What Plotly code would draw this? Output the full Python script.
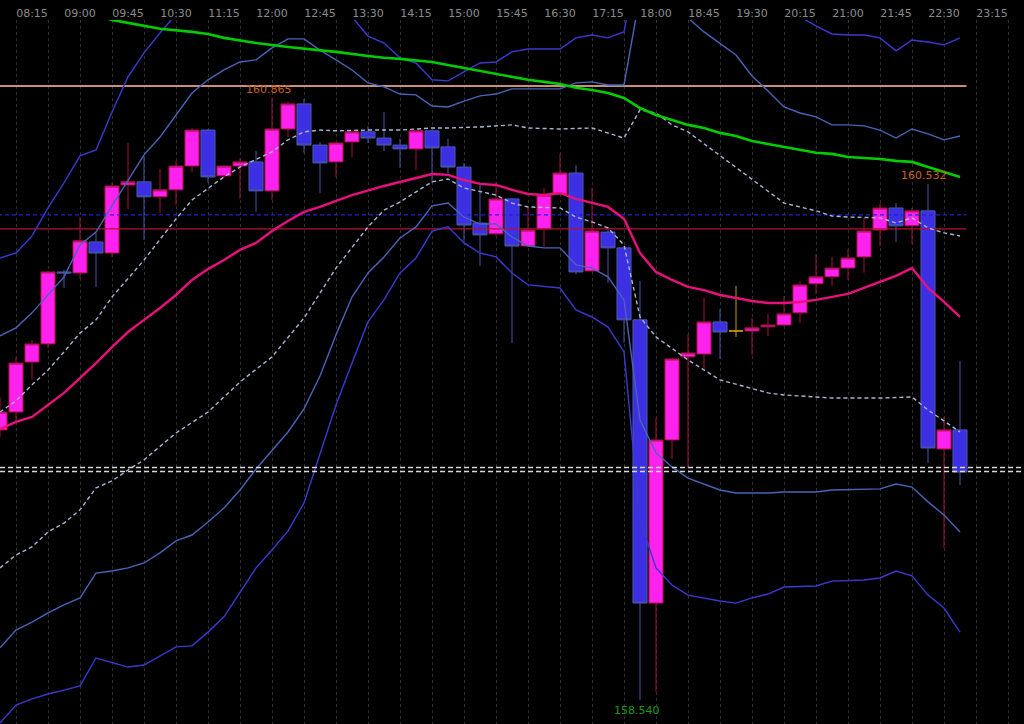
import pandas as pd
import plotly.graph_objects as go

# ---- bar times (15-minute bars) ----
times = pd.date_range("2024-05-02 07:45", periods=61, freq="15min")

# ---- OHLC ----
opens = [159.583, 159.652, 159.845, 159.915, 160.193, 160.189, 160.309, 160.266, 160.529, 160.541,
         160.483, 160.510, 160.602, 160.741, 160.564, 160.602, 160.618, 160.506, 160.745, 160.842,
         160.683, 160.618, 160.695, 160.734, 160.710, 160.683, 160.668, 160.738, 160.676, 160.598,
         160.382, 160.340, 160.475, 160.293, 160.359, 160.494, 160.575, 160.197, 160.347, 160.286,
         160.008, 158.914, 159.544, 159.865, 159.876, 160.000, 159.965, 159.965, 159.981, 159.988,
         160.035, 160.147, 160.174, 160.208, 160.251, 160.355, 160.440, 160.371, 160.429, 159.509,
         159.583]
highs = [159.710, 159.865, 159.930, 160.197, 160.201, 160.405, 160.344, 160.537, 160.691, 160.641,
         160.591, 160.622, 160.749, 160.745, 160.606, 160.633, 160.660, 160.865, 160.850, 160.861,
         160.695, 160.695, 160.738, 160.757, 160.811, 160.707, 160.741, 160.741, 160.707, 160.614,
         160.537, 160.541, 160.479, 160.440, 160.517, 160.649, 160.606, 160.517, 160.367, 160.286,
         160.158, 159.629, 159.861, 159.953, 160.093, 160.050, 160.139, 160.015, 160.031, 160.100,
         160.158, 160.262, 160.251, 160.282, 160.402, 160.459, 160.459, 160.440, 160.532, 159.633,
         159.849]
lows = [159.556, 159.610, 159.776, 159.899, 160.131, 160.166, 160.135, 160.251, 160.436, 160.317,
        160.421, 160.452, 160.579, 160.537, 160.556, 160.475, 160.425, 160.471, 160.714, 160.653,
        160.498, 160.560, 160.637, 160.691, 160.660, 160.595, 160.587, 160.537, 160.575, 160.309,
        160.216, 160.332, 159.919, 160.290, 160.290, 160.490, 160.185, 160.193, 160.150, 159.919,
        158.540, 158.571, 159.471, 159.436, 159.814, 159.857, 159.942, 159.872, 159.946, 159.984,
        159.996, 160.108, 160.139, 160.162, 160.189, 160.293, 160.309, 160.301, 159.455, 159.127,
        159.370]
closes = [159.652, 159.841, 159.915, 160.193, 160.189, 160.313, 160.266, 160.525, 160.541, 160.483,
          160.510, 160.602, 160.741, 160.560, 160.602, 160.618, 160.506, 160.745, 160.842, 160.683,
          160.614, 160.691, 160.734, 160.710, 160.683, 160.668, 160.738, 160.672, 160.598, 160.374,
          160.336, 160.475, 160.293, 160.355, 160.490, 160.575, 160.193, 160.351, 160.286, 160.008,
          158.914, 159.544, 159.857, 159.880, 160.000, 159.961, 159.965, 159.977, 159.988, 160.031,
          160.143, 160.174, 160.208, 160.247, 160.351, 160.440, 160.371, 160.429, 159.513, 159.583,
          159.420]

N = None
# ---- indicator lines (None = not read; drawn straight through) ----
band_outer_up = [160.247, 160.266, 160.332, 160.440, 160.537, 160.641, 160.664, 160.811, 160.946, 161.039,
                 161.116, 161.186, 161.26, 161.30, 161.32, 161.33, 161.34, 161.34, 161.33, 161.31,
                 161.28, 161.24, 161.178, 161.104, 161.077, 161.020, 161.000, 160.935, 160.931, 160.966,
                 161.000, 161.004, 161.043, 161.054, 161.054, 161.054, 161.097, 161.108, 161.097, 161.120,
                 161.45, 161.6, 161.6, 161.6, 161.6, 161.55, 161.5, 161.45, 161.4, 161.33,
                 161.178, 161.143, 161.112, 161.108, 161.108, 161.097, 161.047, 161.089, 161.081, 161.070,
                 161.097]
band_inner_up = [159.946, 159.977, 160.035, 160.104, 160.174, 160.297, 160.347, 160.448, 160.548, 160.645,
                 160.714, 160.799, 160.884, 160.935, 160.973, 161.004, 161.012, 161.058, 161.093, 161.093,
                 161.050, 161.012, 160.973, 160.923, 160.908, 160.880, 160.877, 160.834, 160.830, 160.853,
                 160.873, 160.880, 160.900, 160.900, 160.900, 160.900, 160.923, 160.927, 160.915, 160.915,
                 161.263, 161.40, 161.40, 161.174, 161.120, 161.074, 161.031, 160.950, 160.892, 160.830,
                 160.807, 160.792, 160.761, 160.761, 160.757, 160.741, 160.710, 160.745, 160.726, 160.703,
                 160.718]
dash_up = [159.652, 159.695, 159.757, 159.814, 159.884, 159.957, 160.008, 160.096, N, 160.239,
           160.317, 160.398, 160.471, 160.517, 160.560, 160.598, 160.626, 160.657, 160.703, 160.734,
           160.741, 160.738, N, 160.741, N, 160.741, N, 160.749, 160.749, N,
           160.753, 160.757, 160.761, 160.749, N, 160.745, N, 160.749, 160.730, 160.710,
           160.819, 160.807, 160.761, 160.734, N, N, N, N, N, 160.459,
           160.444, 160.429, 160.409, 160.405, N, 160.402, 160.382, 160.402, 160.363, 160.344,
           160.332]
dash_dn = [159.050, 159.100, 159.131, 159.189, 159.223, 159.274, 159.359, 159.386, 159.428, 159.467,
           N, 159.571, N, 159.652, N, 159.768, N, 159.865, N, 160.015,
           160.112, 160.208, N, 160.367, 160.432, 160.463, N, 160.541, 160.552, 160.517,
           N, 160.490, 160.459, 160.444, N, 160.440, 160.405, 160.386, 160.363, 160.297,
           160.019, 159.942, N, 159.853, N, 159.776, N, N, 159.726, 159.718,
           N, N, 159.706, N, N, 159.706, N, 159.710, 159.660, N,
           159.575]
ma_fast = [159.586, 159.614, 159.633, 159.679, 159.726, 159.783, 159.841, 159.903, 159.961, 160.008,
           160.054, 160.104, 160.162, 160.204, 160.239, 160.278, 160.305, 160.351, 160.390, 160.425,
           160.444, 160.467, 160.490, N, 160.525, 160.541, 160.556, 160.571, 160.568, 160.548,
           160.533, 160.529, 160.510, 160.494, 160.490, 160.498, 160.475, 160.459, 160.444, 160.398,
           160.266, 160.193, 160.162, 160.135, 160.123, 160.104, 160.093, 160.081, 160.073, 160.073,
           160.077, 160.085, N, 160.108, 160.131, 160.154, 160.178, 160.208, 160.131, 160.077,
           160.019]
ma_slow = [N, N, N, N, N, N, 161.186, 161.166, 161.155, N,
           161.132, N, 161.120, 161.112, 161.097, N, 161.077, N, 161.062, N,
           161.050, 161.043, N, 161.027, 161.020, 161.016, N, 161.004, 160.992, 160.981,
           160.969, 160.958, 160.946, 160.935, 160.927, 160.919, 160.904, 160.896, 160.884, 160.865,
           160.826, 160.799, 160.780, 160.761, 160.749, 160.730, 160.718, 160.699, 160.687, 160.676,
           160.664, 160.653, 160.649, 160.637, 160.633, 160.629, 160.622, 160.618, 160.598, 160.579,
           160.560]
band_inner_dn = [158.741, 158.810, 158.841, 158.876, 158.907, 158.934, 159.030, 159.038, 159.050, 159.069,
                 159.108, 159.154, 159.177, 159.227, 159.281, 159.351, 159.432, N, 159.575, 159.664,
                 159.791, 159.950, 160.096, 160.189, 160.251, 160.324, 160.367, 160.448, 160.459, 160.405,
                 160.378, 160.378, 160.328, 160.293, 160.286, 160.286, 160.220, 160.208, 160.174, 160.085,
                 159.621, 159.494, 159.440, 159.397, N, 159.351, 159.339, N, 159.339, 159.343,
                 N, 159.343, 159.351, N, N, 159.355, 159.374, 159.362, 159.305, 159.254,
                 159.189]
band_outer_dn = [158.451, 158.520, 158.544, 158.563, 158.578, 158.594, 158.702, 158.683, 158.667, 158.675,
                 158.710, 158.745, 158.749, 158.802, 158.861, 158.953, 159.050, 159.119, 159.193, 159.301,
                 159.486, 159.679, 159.841, 160.000, 160.085, 160.189, 160.247, 160.351, 160.367, 160.305,
                 160.266, 160.251, 160.189, 160.143, N, 160.131, 160.046, 160.019, 159.980, 159.884,
                 159.235, 159.050, 158.984, 158.945, 158.934, 158.922, 158.914, 158.934, 158.949, 158.976,
                 N, 158.980, 158.999, N, 159.003, 159.011, 159.038, 159.019, 158.945, 158.895,
                 158.802]

# ---- horizontal levels ----
level_orange = 160.911
level_blue = 160.413
level_red = 160.359
bid_price = 159.422
ask_price = 159.438

FONT = "DejaVu Sans"
step = pd.Timedelta(minutes=15)
x_start = times[0]
x_end = times[0] + 64 * step

fig = go.Figure()

# candles (regular + doji)
reg = [i for i in range(len(times)) if abs(opens[i] - closes[i]) > 1e-9]
doji = [i for i in range(len(times)) if abs(opens[i] - closes[i]) <= 1e-9]

def pick(arr, idx):
    return [arr[i] for i in idx]

fig.add_trace(go.Candlestick(
    x=pick(list(times), reg), open=pick(opens, reg), high=pick(highs, reg),
    low=pick(lows, reg), close=pick(closes, reg),
    increasing=dict(line=dict(color="#a8103e", width=1), fillcolor="#ff22ee"),
    decreasing=dict(line=dict(color="#4a58a8", width=1), fillcolor="#3d2fe4"),
    whiskerwidth=0, hoverinfo="skip", showlegend=False))
fig.add_trace(go.Candlestick(
    x=pick(list(times), doji), open=pick(opens, doji), high=pick(highs, doji),
    low=pick(lows, doji), close=pick(closes, doji),
    increasing=dict(line=dict(color="#c89a10", width=1), fillcolor="#c89a10"),
    decreasing=dict(line=dict(color="#c89a10", width=1), fillcolor="#c89a10"),
    whiskerwidth=0, hoverinfo="skip", showlegend=False))

# horizontal level lines (end just right of the last bar)
lvl_x = [times[0] - step, times[-1] + pd.Timedelta(minutes=6)]
for lvl, col, dash, w in [(level_orange, "#c8907a", "solid", 2),
                          (level_blue, "#2020d0", "4px,3px", 1.3),
                          (level_red, "#b41234", "solid", 1.3)]:
    fig.add_trace(go.Scatter(x=lvl_x, y=[lvl, lvl], mode="lines",
                             line=dict(color=col, width=w, dash=dash),
                             hoverinfo="skip", showlegend=False))

def add_line(vals, color, width, dash="solid"):
    fig.add_trace(go.Scatter(x=list(times), y=vals, mode="lines", connectgaps=True,
                             line=dict(color=color, width=width, dash=dash),
                             hoverinfo="skip", showlegend=False))

add_line(band_outer_up, "#3a3ad0", 1.4)
add_line(band_outer_dn, "#3a3ad0", 1.4)
add_line(band_inner_up, "#4a64b8", 1.4)
add_line(band_inner_dn, "#4a64b8", 1.4)
add_line(dash_up, "#a8b6d4", 1.4, "4px,3px")
add_line(dash_dn, "#a8b6d4", 1.4, "4px,3px")
add_line(ma_slow, "#00cc00", 2.6)
add_line(ma_fast, "#e8107c", 2.4)

# bid / ask lines across the whole view (on the grid axis x2)
full_x = [times[0] - step, x_end + 4 * step]
for lvl in (bid_price, ask_price):
    fig.add_trace(go.Scatter(x=full_x, y=[lvl, lvl], mode="lines", xaxis="x2",
                             line=dict(color="#d8d8d8", width=1.4, dash="5px,3px"),
                             hoverinfo="skip", showlegend=False))

# high / low labels
hi_i = max(range(len(highs)), key=lambda i: highs[i])
lo_i = min(range(len(lows)), key=lambda i: lows[i])
hi2_i = max(range(lo_i, len(highs)), key=lambda i: highs[i])
annos = [
    dict(x=times[hi_i], y=highs[hi_i], text=f"{highs[hi_i]:.3f}", yanchor="bottom",
         xshift=-3, yshift=0, font=dict(family=FONT, size=11, color="#c8620e")),
    dict(x=times[hi2_i], y=highs[hi2_i], text=f"{highs[hi2_i]:.3f}", yanchor="bottom",
         xshift=-4, yshift=0, font=dict(family=FONT, size=11, color="#c8620e")),
    dict(x=times[lo_i], y=lows[lo_i], text=f"{lows[lo_i]:.3f}", yanchor="top",
         xshift=-3, yshift=-2, font=dict(family=FONT, size=11, color="#1a9a1a")),
]
for a in annos:
    a.update(showarrow=False, xref="x", yref="y")

fig.update_layout(
    width=1024, height=724,
    margin=dict(l=0, r=0, t=20, b=0),
    paper_bgcolor="#000000", plot_bgcolor="#000000",
    showlegend=False, boxgap=0.12, boxgroupgap=0,
    annotations=annos,
    xaxis=dict(type="date", range=[x_start, x_end], side="top",
               tickmode="linear", tick0=times[2], dtick=45 * 60 * 1000,
               tickformat="%H:%M", ticks="", showgrid=False, zeroline=False,
               showline=False, rangeslider=dict(visible=False),
               tickfont=dict(family=FONT, size=11, color="#8c8c8c")),
    xaxis2=dict(type="date", overlaying="x", range=[x_start, x_end], side="top",
                tickmode="linear", tick0=times[1], dtick=30 * 60 * 1000,
                showticklabels=False, ticks="", showgrid=True, gridcolor="#303030",
                griddash="3px,3px", gridwidth=1, zeroline=False, showline=False),
    yaxis=dict(range=[158.4471, 161.166], showticklabels=False, showgrid=False,
               zeroline=False, showline=False),
)

fig.write_html(
    "out.html",
    config={"displayModeBar": False},
    post_script="document.body.style.margin='0';document.body.style.background='#000';"
                "document.body.style.overflow='hidden';",
)
